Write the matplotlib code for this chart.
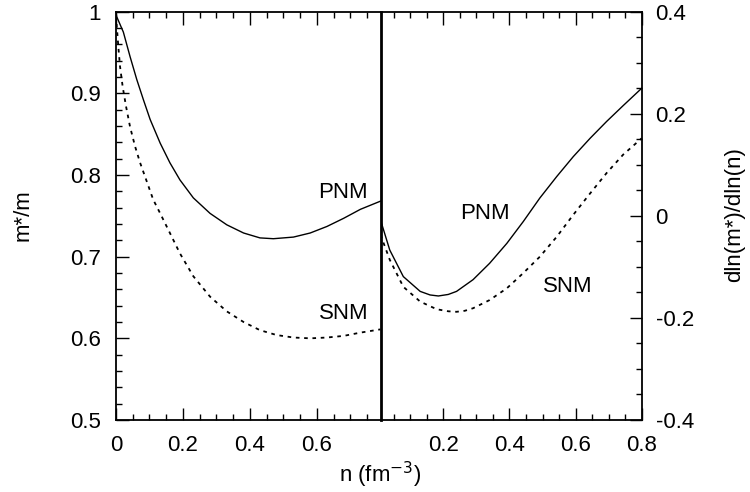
import numpy as np
import matplotlib
matplotlib.use("Agg")
import matplotlib.pyplot as plt
from matplotlib.ticker import MultipleLocator, FixedLocator, FuncFormatter

plt.rcParams['font.family'] = ['Liberation Sans', 'DejaVu Sans']

# left panel: effective mass m*/m vs density n (fm^-3)
n_pnm_left = [0.0, 0.002, 0.022, 0.042, 0.062, 0.082, 0.102, 0.132, 0.161, 0.191, 0.231,
              0.281, 0.331, 0.381, 0.430, 0.470, 0.530, 0.580, 0.630, 0.680, 0.730, 0.790]
m_pnm_left = [1.0, 0.994, 0.975, 0.945, 0.917, 0.892, 0.868, 0.839, 0.815, 0.794, 0.772,
              0.753, 0.739, 0.729, 0.723, 0.722, 0.724, 0.729, 0.737, 0.747, 0.758, 0.768]

n_snm_left = [0.0, 0.007, 0.012, 0.020, 0.030, 0.042, 0.057, 0.072, 0.092, 0.111,
              0.132, 0.161, 0.191, 0.231, 0.281, 0.331, 0.381, 0.430, 0.480, 0.530,
              0.580, 0.630, 0.680, 0.730, 0.790]
m_snm_left = [0.995, 0.957, 0.933, 0.908, 0.884, 0.859, 0.835, 0.815, 0.792, 0.770,
              0.753, 0.729, 0.704, 0.676, 0.651, 0.633, 0.620, 0.610, 0.604, 0.601,
              0.600, 0.601, 0.603, 0.607, 0.611]

# right panel: logarithmic derivative dln(m*)/dln(n)
n_pnm_right = [0.01, 0.038, 0.079, 0.130, 0.160, 0.185, 0.215, 0.240, 0.290, 0.340,
               0.392, 0.442, 0.492, 0.543, 0.593, 0.644, 0.694, 0.744, 0.800]
d_pnm_right = [-0.008, -0.067, -0.119, -0.148, -0.155, -0.157, -0.154, -0.148, -0.125,
               -0.093, -0.054, -0.011, 0.035, 0.077, 0.116, 0.152, 0.185, 0.216, 0.250]

n_snm_right = [0.01, 0.038, 0.079, 0.130, 0.180, 0.215, 0.240, 0.265, 0.290, 0.340,
               0.392, 0.442, 0.492, 0.543, 0.593, 0.644, 0.694, 0.744, 0.800]
d_snm_right = [-0.037, -0.086, -0.139, -0.168, -0.183, -0.187, -0.188, -0.186, -0.181,
               -0.165, -0.142, -0.112, -0.080, -0.041, 0.002, 0.044, 0.084, 0.120, 0.152]

fs = 16
fig = plt.figure(figsize=(7.5, 4.92), dpi=100)
x0, xm, x1 = 116 / 750, 380.5 / 750, 641.7 / 750
y0, y1 = 1 - 420 / 492, 1 - 11.7 / 492
axL = fig.add_axes([x0, y0, xm - x0, y1 - y0])
axR = fig.add_axes([xm, y0, x1 - xm, y1 - y0])
axR.patch.set_visible(False)

dash = (0, (2.0, 2.6))

axL.plot(n_pnm_left, m_pnm_left, color='black', lw=1.0)
axL.plot(n_snm_left, m_snm_left, color='black', lw=1.3, linestyle=dash)
axR.plot(n_pnm_right, d_pnm_right, color='black', lw=1.0)
axR.plot(n_snm_right, d_snm_right, color='black', lw=1.3, linestyle=dash)

fmt = FuncFormatter(lambda v, p: ('%g' % round(v, 3)).replace('\u2212', '-'))

axL.set_xlim(0, 0.79)
axL.set_ylim(0.5, 1.0)
axL.xaxis.set_major_locator(FixedLocator([0, 0.2, 0.4, 0.6]))
axL.xaxis.set_minor_locator(MultipleLocator(0.05))
axL.yaxis.set_major_locator(MultipleLocator(0.1))
axL.yaxis.set_minor_locator(MultipleLocator(0.02))
axL.xaxis.set_major_formatter(fmt)
axL.yaxis.set_major_formatter(fmt)
axL.tick_params(which='both', direction='in', top=True, right=False, labelsize=fs)
axL.tick_params(axis='y', which='major', length=9, width=1, pad=11)
axL.tick_params(axis='y', which='minor', length=4.5, width=1)
axL.tick_params(axis='x', which='major', length=9, width=1, pad=11)
axL.tick_params(axis='x', which='minor', length=4.5, width=1)

axR.set_xlim(0.01, 0.8)
axR.set_ylim(-0.4, 0.4)
axR.xaxis.set_major_locator(FixedLocator([0.2, 0.4, 0.6, 0.8]))
axR.xaxis.set_minor_locator(MultipleLocator(0.05))
axR.yaxis.set_major_locator(MultipleLocator(0.2))
axR.yaxis.set_minor_locator(MultipleLocator(0.05))
axR.xaxis.set_major_formatter(fmt)
axR.yaxis.set_major_formatter(fmt)
axR.yaxis.tick_right()
axR.tick_params(which='both', direction='in', top=True, left=False, right=True,
                labelleft=False, labelright=True, labelsize=fs)
axR.tick_params(axis='y', which='major', length=9, width=1, pad=10)
axR.tick_params(axis='y', which='minor', length=4.5, width=1)
axR.tick_params(axis='x', which='major', length=9, width=1, pad=11)
axR.tick_params(axis='x', which='minor', length=4.5, width=1)

for ax in (axL, axR):
    for s in ax.spines.values():
        s.set_linewidth(1.3)
axL.spines['right'].set_linewidth(2.0)
axR.spines['left'].set_visible(False)

axL.text(0.753, 0.779, 'PNM', fontsize=fs, ha='right', va='center')
axL.text(0.753, 0.630, 'SNM', fontsize=fs, ha='right', va='center')
axR.text(0.326, 0.004, 'PNM', fontsize=fs, ha='center', va='center')
axR.text(0.577, -0.138, 'SNM', fontsize=fs, ha='center', va='center')

fig.text(23 / 750, 1 - 215 / 492, 'm*/m', fontsize=fs, rotation=90, ha='center', va='center')
fig.text(735 / 750, 1 - 215 / 492, 'dln(m*)/dln(n)', fontsize=fs, rotation=90,
         ha='center', va='center')
fig.text(xm, 1 - 482.5 / 492, 'n (fm$^{-3}$)', fontsize=fs, ha='center', va='baseline')

fig.savefig('out.png', dpi=100)
